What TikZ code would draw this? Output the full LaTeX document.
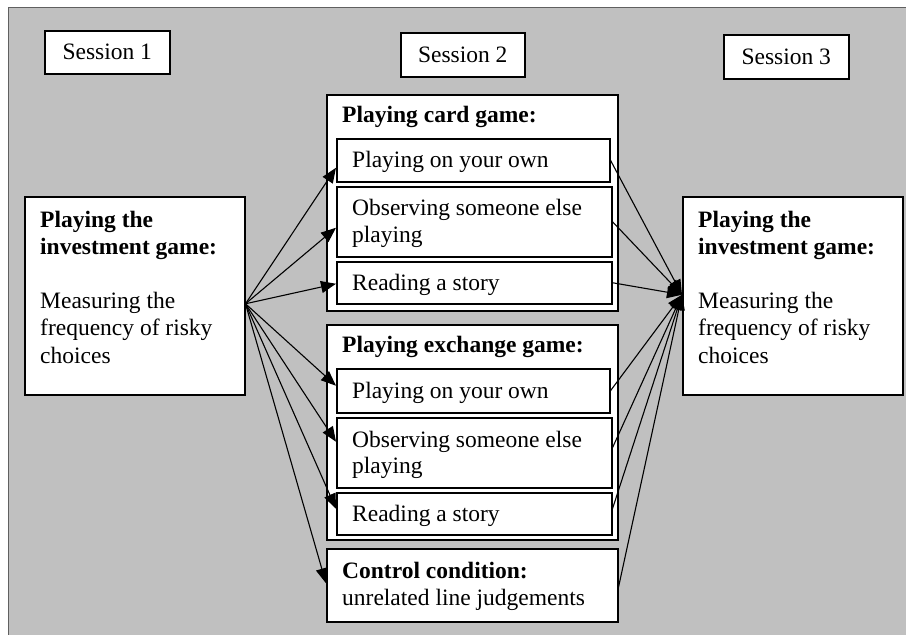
\documentclass[tikz,border=0pt]{standalone}
\usepackage{fontspec}
\setmainfont{Liberation Serif}
\usetikzlibrary{arrows.meta,calc}
\definecolor{bggray}{HTML}{C0C0C0}
\definecolor{bgline}{HTML}{606060}
\begin{document}
\begin{tikzpicture}[x=1pt,y=-1pt,
  font=\fontsize{23.5}{27}\selectfont,
  box/.style={draw=black, fill=white, line width=1.5pt, inner sep=0pt, anchor=north west},
  txt/.style={anchor=base west, inner sep=0pt},
  arr/.style={line width=1.1pt, -{Triangle[length=15pt,width=12pt]}}]
\useasboundingbox (0,0) rectangle (906,635);
\draw[fill=bggray, draw=bgline, line width=1pt] (8.5,7.5) rectangle (915,645);

% session headers
\node[box, minimum width=125pt, minimum height=43pt] (s1) at (44,30) {};
\node at (s1.center) (s1t) {Session 1};
\node[box, minimum width=124pt, minimum height=44pt] (s2) at (400,32) {};
\node at (s2.center) (s2t) {Session 2};
\node[box, minimum width=125pt, minimum height=44pt] (s3) at (723,34) {};
\node at (s3.center) (s3t) {Session 3};

% left box
\node[box, minimum width=220pt, minimum height=198pt] (L) at (24,196) {};
\node[txt] (L1) at (40,227) {\bfseries Playing the};
\node[txt] (L2) at (40,254) {\bfseries investment game:};
\node[txt] (L3) at (40,308) {Measuring the};
\node[txt] (L4) at (40,335) {frequency of risky};
\node[txt] (L5) at (40,363) {choices};

% right box
\node[box, minimum width=220pt, minimum height=198pt] (R) at (682,196) {};
\node[txt] (R1) at (698,227) {\bfseries Playing the};
\node[txt] (R2) at (698,254) {\bfseries investment game:};
\node[txt] (R3) at (698,308) {Measuring the};
\node[txt] (R4) at (698,335) {frequency of risky};
\node[txt] (R5) at (698,363) {choices};

% card game
\node[box, minimum width=291pt, minimum height=216pt] (C) at (326,94) {};
\node[txt] (Ct) at (342,122) {\bfseries Playing card game:};
\node[box, minimum width=273pt, minimum height=43pt] (c1) at (336,138) {};
\node[txt] (c1t) at (352,167) {Playing on your own};
\node[box, minimum width=275pt, minimum height=70pt] (c2) at (336,186) {};
\node[txt] (c2t) at (352,215) {Observing someone else};
\node[txt] (c2u) at (352,242) {playing};
\node[box, minimum width=275pt, minimum height=42pt] (c3) at (336,261) {};
\node[txt] (c3t) at (352,290) {Reading a story};

% exchange game
\node[box, minimum width=291pt, minimum height=215pt] (E) at (326,324) {};
\node[txt] (Et) at (342,352) {\bfseries Playing exchange game:};
\node[box, minimum width=273pt, minimum height=44pt] (e1) at (336,368) {};
\node[txt] (e1t) at (352,398) {Playing on your own};
\node[box, minimum width=275pt, minimum height=70pt] (e2) at (336,417) {};
\node[txt] (e2t) at (352,447) {Observing someone else};
\node[txt] (e2u) at (352,473) {playing};
\node[box, minimum width=275pt, minimum height=42pt] (e3) at (336,492) {};
\node[txt] (e3t) at (352,521) {Reading a story};

% control
\node[box, minimum width=291pt, minimum height=73pt] (K) at (326,548) {};
\node[txt] (Kt) at (342,578) {\bfseries Control condition:};
\node[txt] (Ku) at (342,605) {unrelated line judgements};

% arrows from session 1
\coordinate (src) at ([yshift=-8pt]L.east);
\draw[arr] (src) -- ([yshift=-7.5pt]c1.west);
\draw[arr] (src) -- ([yshift=-6pt]c2.west);
\draw[arr] (src) -- ([yshift=-1pt]c3.west);
\draw[arr] (src) -- ([yshift=5pt]e1.west);
\draw[arr] (src) -- ([yshift=11pt]e2.west);
\draw[arr] (src) -- ([yshift=5pt]e3.west);
\draw[arr] (src) -- ([yshift=2pt]K.west);

% arrows to session 3
\coordinate (tgt) at ([yshift=1pt]R.west);
\draw[arr] (c1.east) -- (tgt);
\draw[arr] (c2.east) -- (tgt);
\draw[arr] (c3.east) -- (tgt);
\draw[arr] (e1.east) -- (tgt);
\draw[arr] ([yshift=5pt]e2.east) -- (tgt);
\draw[arr] ([yshift=5pt]e3.east) -- (tgt);
\draw[arr] ([yshift=-2pt]K.east) -- (tgt);
\end{tikzpicture}
\end{document}
